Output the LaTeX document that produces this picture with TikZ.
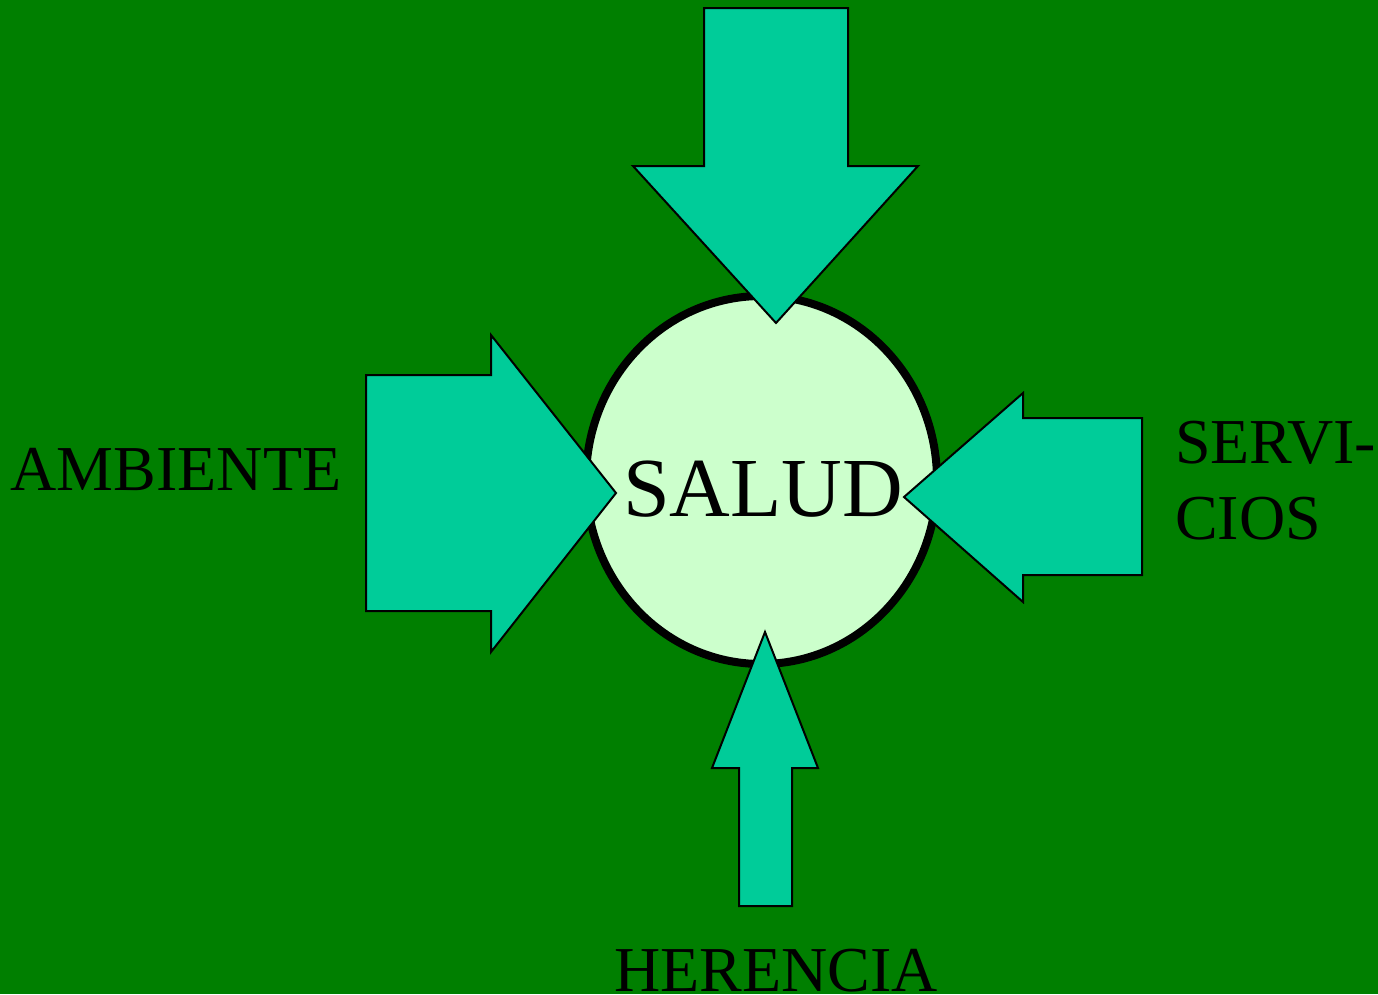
\documentclass[tikz,border=0pt]{standalone}
\usepackage{fontspec}
\setmainfont{Liberation Serif}
\usepackage{tikz}
\usetikzlibrary{shapes.geometric}

\definecolor{fondo}{HTML}{007F00}
\definecolor{flechaverde}{HTML}{00CC99}
\definecolor{claro}{HTML}{CCFFCC}

\begin{document}
\begin{tikzpicture}[x=1pt,y=-1pt,
    flecha/.style={fill=flechaverde, draw=black, line width=2pt},
    rotulo/.style={anchor=base, inner sep=0pt, font=\fontsize{64}{74}\selectfont}]
          \fill[fondo] (0,0) rectangle (1378,994);
          \useasboundingbox (0,0) rectangle (1378,994);

          % circulo central
          \node (salud) [ellipse, fill=claro, draw=black, line width=8pt,
                minimum width=351pt, minimum height=368pt, inner sep=0pt] at (761.5,480) {};
          \node (s) [rotulo, font=\fontsize{84}{96}\selectfont] at (763,516) {SALUD};

          % flechas
          \draw[flecha] (704,8) -- (848,8) -- (848,166) -- (918,166) -- (776,323)
                -- (633,166) -- (704,166) -- cycle;
          \draw[flecha] (366,375) -- (491,375) -- (491,335) -- (616,493) -- (491,652)
                -- (491,611) -- (366,611) -- cycle;
          \draw[flecha] (1142,418) -- (1023,418) -- (1023,393) -- (904,497) -- (1023,602)
                -- (1023,575) -- (1142,575) -- cycle;
          \draw[flecha] (739,906) -- (739,768) -- (712,768) -- (765,632) -- (818,768)
                -- (792,768) -- (792,906) -- cycle;

          % rotulos
          \node (a) [rotulo] at (176,490) {AMBIENTE};
          \node (h) [rotulo] at (776,991) {HERENCIA};
          \node (sv) [rotulo, anchor=base west] at (1175,463) {SERVI-};
          \node (c) [rotulo, anchor=base west] at (1175,539) {CIOS};

        \end{tikzpicture}
\end{document}
